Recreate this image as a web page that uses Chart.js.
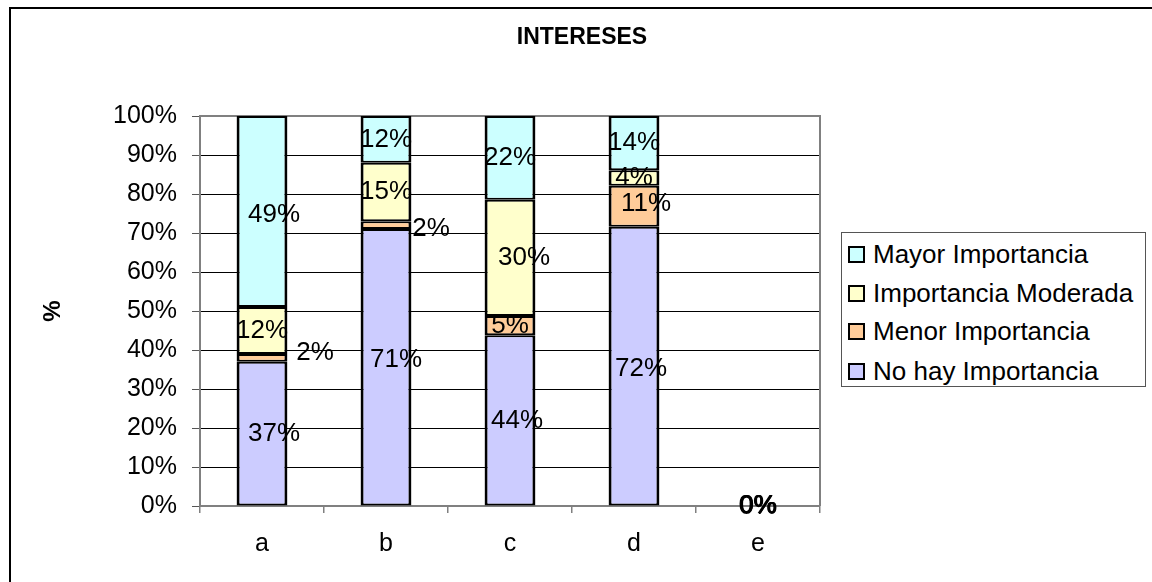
<!DOCTYPE html>
<html>
<head>
<meta charset="utf-8">
<script src="https://cdn.jsdelivr.net/npm/chart.js@4.4.1/dist/chart.umd.min.js"></script>
<style>
  html, body { margin: 0; padding: 0; background: #fff; overflow: hidden; }
  #wrap { position: relative; width: 1152px; height: 582px; }
  #frame { position: absolute; left: 9px; top: 7px; right: 0; bottom: 0;
           border-top: 2px solid #000; border-left: 2px solid #000; pointer-events: none; }
  canvas { position: absolute; left: 0; top: 0; }
  #legend { position: absolute; left: 841px; top: 232px; width: 305px; height: 155px;
            box-sizing: border-box; border: 1px solid #555; background: #fff;
            font-family: 'Liberation Sans', Arial, sans-serif; font-size: 26px; color: #000; }
  .row { position: absolute; left: 6px; height: 30px; display: flex; align-items: center; white-space: nowrap; }
  .sw { width: 17px; height: 17px; box-sizing: border-box; border: 2px solid #000; margin-right: 8px; flex: none; }
</style>
</head>
<body>
<div id="wrap">
  <canvas id="c" width="1152" height="582"></canvas>
  <div id="frame"></div>
  <div id="legend"></div>
</div>
<script>
// ---- data ----
const categories = ['a', 'b', 'c', 'd', 'e'];
const seriesNames = ['No hay Importancia', 'Menor Importancia', 'Importancia Moderada', 'Mayor Importancia'];
const noHay    = [37, 71, 43.8, 71.6, 0];
const menor    = [2, 2, 4.9, 10.5, 0];
const moderada = [12, 15, 29.8, 4.0, 0];
const mayor    = [49, 12, 21.5, 13.9, 0];
const yTickValues = [0, 10, 20, 30, 40, 50, 60, 70, 80, 90, 100];
const chartTitle = 'INTERESES';
const yTitle = '%';

// ---- style ----
const seriesColors = ['#CCCCFF', '#FFCC99', '#FFFFCC', '#CCFFFF'];
const FONT = "'Liberation Sans', Arial, sans-serif";
// label nudges in px [dx, dy] per series per category (manual label placement in original)
const labelNudge = [
  [[12, 0], [10, -7], [7, 0], [7, 3], [-0.6, 0]],
  [[53, -5], [45, 4], [0, 0], [12, -2], [0.6, 0]],
  [[0, 0], [0, 0], [14, 0], [0, 0], [0, -0.5]],
  [[12, 3], [0, 0], [0, 0], [0, 0], [0, 0.5]]
];

const seriesData = [noHay, menor, moderada, mayor];

const datasets = seriesData.map((d, i) => ({
  label: seriesNames[i],
  data: d,
  backgroundColor: seriesColors[i],
  borderColor: '#000',
  borderWidth: { left: 3, right: 3, top: 2, bottom: 2 },
  borderSkipped: false,
  barPercentage: 0.41,
  categoryPercentage: 1.0
}));

const decorPlugin = {
  id: 'decor',
  beforeDatasetsDraw(chart) {
    const { ctx, chartArea: a } = chart;
    ctx.save();
    ctx.strokeStyle = '#808080';
    ctx.lineWidth = 2;
    ctx.beginPath();
    ctx.moveTo(a.left, a.top);
    ctx.lineTo(a.right, a.top);
    ctx.lineTo(a.right, a.bottom);
    ctx.stroke();
    ctx.restore();
  },
  afterDatasetsDraw(chart) {
    const { ctx } = chart;
    ctx.save();
    ctx.fillStyle = '#000';
    ctx.font = '26px ' + FONT;
    ctx.textAlign = 'center';
    ctx.textBaseline = 'middle';
    chart.data.datasets.forEach((ds, i) => {
      const meta = chart.getDatasetMeta(i);
      meta.data.forEach((el, j) => {
        const v = ds.data[j];
        const n = labelNudge[i][j];
        const y = (el.y + el.base) / 2;
        ctx.fillText(Math.round(v) + '%', el.x + n[0], y + n[1]);
      });
    });
    // title
    ctx.font = 'bold 23px ' + FONT;
    ctx.fillText(chartTitle, 582, 38);
    // y title
    ctx.translate(53, 311);
    ctx.rotate(-Math.PI / 2);
    ctx.font = 'bold 24px ' + FONT;
    ctx.fillText(yTitle, 0, 0);
    ctx.restore();
  }
};

new Chart(document.getElementById('c'), {
  type: 'bar',
  data: { labels: categories, datasets },
  options: {
    responsive: false,
    devicePixelRatio: 1,
    animation: false,
    layout: { padding: { left: 0, top: 116, right: 332, bottom: 0 } },
    plugins: { legend: { display: false }, title: { display: false }, tooltip: { enabled: false } },
    scales: {
      x: {
        stacked: true,
        offset: true,
        grid: { display: true, offset: true, drawOnChartArea: false, drawTicks: true, tickLength: 7, color: '#808080', lineWidth: 1.5 },
        border: { display: true, color: '#808080', width: 2 },
        ticks: { color: '#000', font: { family: FONT, size: 25 }, padding: 16 },
        afterFit(s) { s.height = 76; }
      },
      y: {
        stacked: true,
        min: 0,
        max: 100,
        afterBuildTicks(s) { s.ticks = yTickValues.map(v => ({ value: v })); },
        ticks: { color: '#000', font: { family: FONT, size: 25 }, padding: 15, callback: v => v + '%' },
        grid: { color: '#000', lineWidth: 1, tickLength: 8, tickColor: '#555' },
        border: { display: true, color: '#808080', width: 2 },
        afterFit(s) { s.width = 200; }
      }
    }
  },
  plugins: [decorPlugin]
});

// HTML legend (reverse order, as in original)
const legend = document.getElementById('legend');
const rowCenters = [21, 60, 98, 138];
[3, 2, 1, 0].forEach((i, k) => {
  const row = document.createElement('div');
  row.className = 'row';
  row.style.top = (rowCenters[k] - 15) + 'px';
  const sw = document.createElement('span');
  sw.className = 'sw';
  sw.style.background = seriesColors[i];
  const t = document.createElement('span');
  t.textContent = seriesNames[i];
  row.appendChild(sw);
  row.appendChild(t);
  legend.appendChild(row);
});
</script>
</body>
</html>
